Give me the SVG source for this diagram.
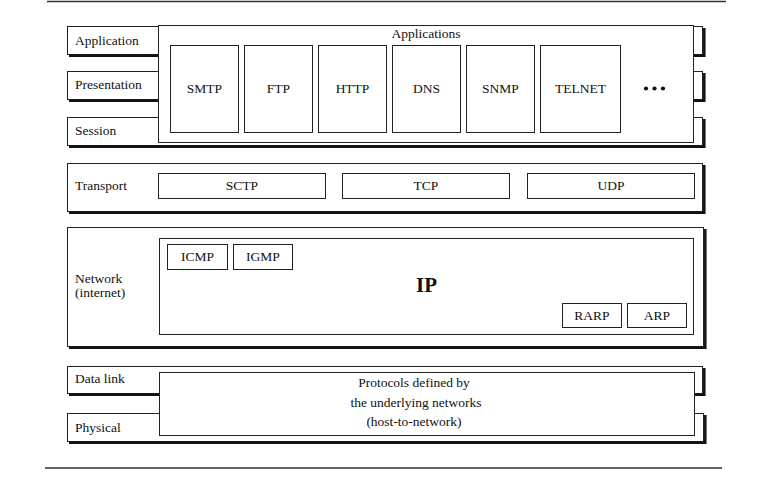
<svg xmlns="http://www.w3.org/2000/svg" width="763" height="478" viewBox="0 0 763 478" font-family="'Liberation Serif', 'DejaVu Serif', serif">
<style>
text{font-family:'Liberation Serif','DejaVu Serif',serif;font-size:13.5px;fill:#111}
.c{text-anchor:middle}
.box{fill:#fff;stroke:#222;stroke-width:1}
.sh{fill:none;stroke:#111;stroke-width:2.5}
.rule{stroke:#333;stroke-width:1.3}
.ip{font-weight:bold;font-size:21px}
</style>
<rect width="763" height="478" fill="#fff"/>
<line class="rule" x1="47" y1="1.5" x2="726" y2="1.5"/>
<line class="rule" x1="45" y1="468" x2="722" y2="468"/>

<g id="row-application">
<rect class="box" x="67.5" y="26.5" width="635" height="28"/>
<path class="sh" d="M69 55.8H704.3V28"/>
<text x="75" y="44.5">Application</text>
</g>
<g id="row-presentation">
<rect class="box" x="67.5" y="71.5" width="635" height="28"/>
<path class="sh" d="M69 100.8H704.3V73"/>
<text x="75" y="89">Presentation</text>
</g>
<g id="row-session">
<rect class="box" x="67.5" y="117.5" width="635" height="28"/>
<path class="sh" d="M69 146.8H704.3V119"/>
<text x="75" y="135">Session</text>
</g>

<g id="applications">
<rect class="box" x="158.5" y="25.5" width="535" height="117"/>
<text class="c" x="426" y="38">Applications</text>
</g>
<g id="smtp"><rect class="box" x="170.5" y="45.5" width="68" height="87"/><text class="c" x="204.5" y="93">SMTP</text></g>
<g id="ftp"><rect class="box" x="244.5" y="45.5" width="68" height="87"/><text class="c" x="278.5" y="93">FTP</text></g>
<g id="http"><rect class="box" x="318.5" y="45.5" width="68" height="87"/><text class="c" x="352.5" y="93">HTTP</text></g>
<g id="dns"><rect class="box" x="392.5" y="45.5" width="68" height="87"/><text class="c" x="426.5" y="93">DNS</text></g>
<g id="snmp"><rect class="box" x="466.5" y="45.5" width="68" height="87"/><text class="c" x="500.5" y="93">SNMP</text></g>
<g id="telnet"><rect class="box" x="540.5" y="45.5" width="80" height="87"/><text class="c" x="580.5" y="93">TELNET</text></g>
<g id="more">
<circle cx="646" cy="88.5" r="2.1" fill="#111"/>
<circle cx="654.5" cy="88.5" r="2.1" fill="#111"/>
<circle cx="663" cy="88.5" r="2.1" fill="#111"/>
</g>

<g id="row-transport">
<rect class="box" x="67.5" y="163.5" width="635" height="48"/>
<path class="sh" d="M69 212.8H704.3V165"/>
<text x="75" y="190">Transport</text>
</g>
<g id="sctp"><rect class="box" x="158.5" y="173.5" width="167" height="25"/><text class="c" x="242" y="190">SCTP</text></g>
<g id="tcp"><rect class="box" x="342.5" y="173.5" width="167" height="25"/><text class="c" x="426" y="190">TCP</text></g>
<g id="udp"><rect class="box" x="527.5" y="173.5" width="167" height="25"/><text class="c" x="611" y="190">UDP</text></g>

<g id="row-network">
<rect class="box" x="67.5" y="227.5" width="636" height="119"/>
<path class="sh" d="M69 347.8H705.3V229"/>
<text x="75" y="283">Network</text>
<text x="75" y="296.5">(internet)</text>
</g>
<g id="ip">
<rect class="box" x="159.5" y="238.5" width="534" height="96"/>
<text class="c ip" x="426.5" y="292">IP</text>
</g>
<g id="icmp"><rect class="box" x="167.5" y="244.5" width="60" height="25"/><text class="c" x="197.5" y="261">ICMP</text></g>
<g id="igmp"><rect class="box" x="233.5" y="244.5" width="59" height="25"/><text class="c" x="263" y="261">IGMP</text></g>
<g id="rarp"><rect class="box" x="562.5" y="303.5" width="59" height="24"/><text class="c" x="592" y="320">RARP</text></g>
<g id="arp"><rect class="box" x="627.5" y="303.5" width="59" height="24"/><text class="c" x="657" y="320">ARP</text></g>

<g id="row-datalink">
<rect class="box" x="67.5" y="366.5" width="635" height="27"/>
<path class="sh" d="M69 394.8H704.3V368"/>
<text x="75" y="383">Data link</text>
</g>
<g id="row-physical">
<rect class="box" x="67.5" y="413.5" width="636" height="28"/>
<path class="sh" d="M69 442.8H705.3V415"/>
<text x="75" y="432">Physical</text>
</g>
<g id="host-to-network">
<rect class="box" x="159.5" y="372.5" width="535" height="63"/>
<text class="c" x="414" y="387">Protocols defined by</text>
<text class="c" x="416" y="407">the underlying networks</text>
<text class="c" x="414" y="426">(host-to-network)</text>
</g>
<g id="connectors"></g>
</svg>
